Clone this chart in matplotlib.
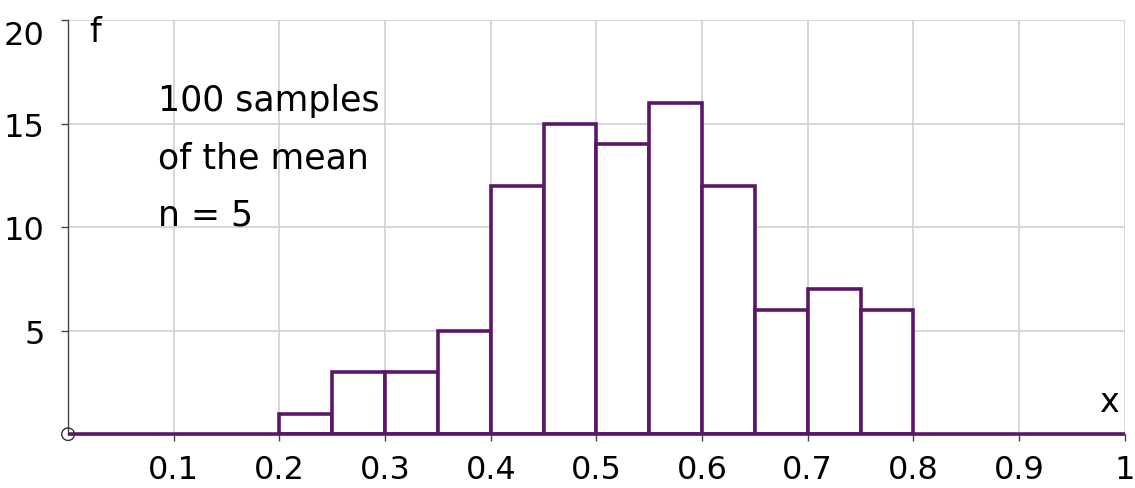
import matplotlib
matplotlib.use("Agg")
import matplotlib.pyplot as plt
from matplotlib.patches import Ellipse

# Histogram of 100 sample means (n = 5), class width 0.05
bin_edges = [0.20, 0.25, 0.30, 0.35, 0.40, 0.45, 0.50, 0.55, 0.60, 0.65, 0.70, 0.75, 0.80]
frequencies = [1, 3, 3, 5, 12, 15, 14, 16, 12, 6, 7, 6]
x_ticks = [0.1, 0.2, 0.3, 0.4, 0.5, 0.6, 0.7, 0.8, 0.9, 1.0]
x_tick_labels = ["0.1", "0.2", "0.3", "0.4", "0.5", "0.6", "0.7", "0.8", "0.9", "1"]
y_ticks = [5, 10, 15, 20]
y_tick_labels = ["5", "10", "15", "20"]

purple = "#5a1767"
grid_col = "#d0d0d0"
font = "DejaVu Sans"

fig = plt.figure(figsize=(11.35, 4.89), dpi=100)
ax = fig.add_axes([0.060, 0.110, 0.931, 0.847])
ax.set_xlim(0, 1)
ax.set_ylim(0, 20)

# grid
for xv in x_ticks:
    ax.axvline(xv, color=grid_col, lw=1.2, zorder=0)
for yv in y_ticks:
    ax.axhline(yv, color=grid_col, lw=1.2, zorder=0)

# bars
lefts = bin_edges[:-1]
widths = [b - a for a, b in zip(bin_edges[:-1], bin_edges[1:])]
ax.bar(lefts, frequencies, width=widths, align="edge", facecolor="white",
       edgecolor=purple, linewidth=2.6, zorder=3)
# baseline of the histogram outline across the full range
ax.plot([0, 1], [0, 0], color=purple, lw=2.6, zorder=4, clip_on=False,
        solid_capstyle="butt")

for side in ["top", "right"]:
    ax.spines[side].set_visible(False)
ax.spines["left"].set_color("#444444")
ax.spines["left"].set_linewidth(1.0)
ax.spines["bottom"].set_color("#777777")
ax.spines["bottom"].set_linewidth(1.0)

ax.set_xticks(x_ticks)
ax.set_xticklabels(x_tick_labels, fontsize=23, family=font)
ax.set_yticks(y_ticks)
ax.set_yticklabels(y_tick_labels, fontsize=23, family=font)
ax.tick_params(axis="x", length=5, width=1, color="#444444", pad=9)
ax.tick_params(axis="y", length=5, width=1, color="#444444", pad=12)
for lbl in ax.get_yticklabels():
    if lbl.get_text() == "20":
        lbl.set_va("top")

# origin marker
ax.add_patch(Ellipse((0, 0), 0.012, 0.6, fill=False, ec="#333333", lw=1.0,
                     clip_on=False, zorder=5))

ax.text(0.02, 20.25, "f", fontsize=24, family=font, va="top", ha="left")
ax.text(0.985, 0.8, "x", fontsize=24, family=font, va="bottom", ha="center")

ax.text(0.085, 16.95, "100 samples\nof the mean\nn = 5", fontsize=25,
        family=font, va="top", ha="left", linespacing=1.85)

fig.savefig("out.png", dpi=100, facecolor="white")
